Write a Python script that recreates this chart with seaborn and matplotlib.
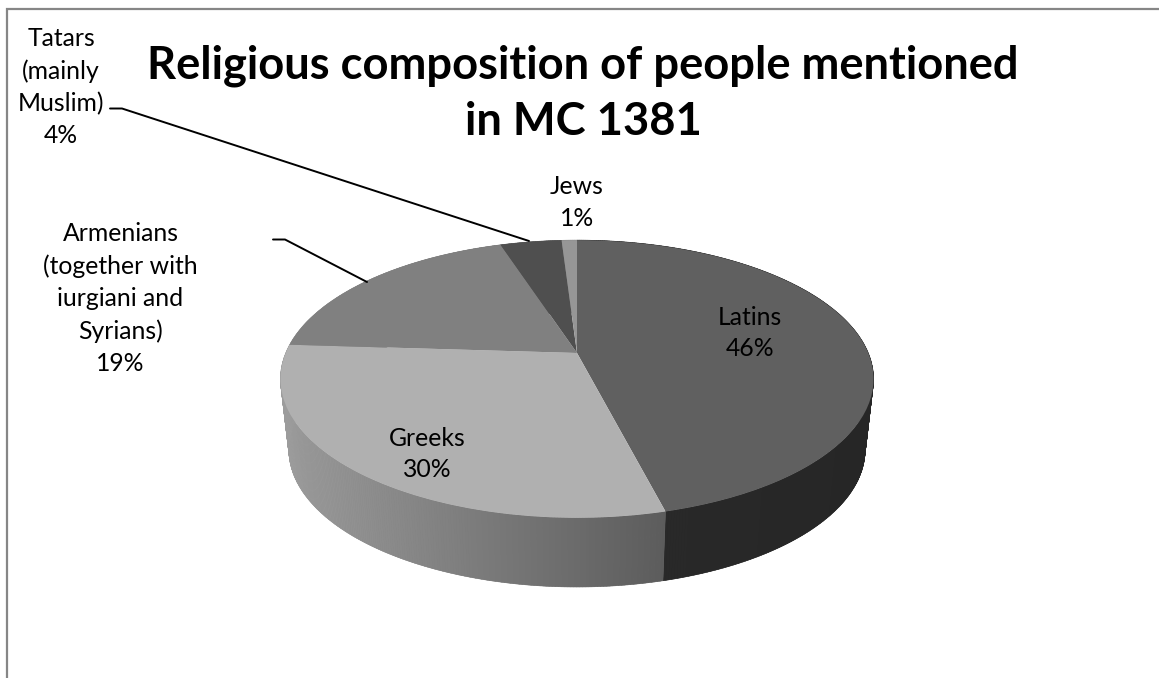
import numpy as np
import matplotlib
matplotlib.use("Agg")
import matplotlib.pyplot as plt
from matplotlib.path import Path
from matplotlib.transforms import Transform
import seaborn as sns

# ---- data ----
categories = ["Latins", "Greeks", "Armenians\n(together with\niurgiani and\nSyrians)",
              "Tatars\n(mainly\nMuslim)", "Jews"]
shares = [46, 30, 19, 4, 1]
title_text = "Religious composition of people mentioned\nin MC 1381"

# ---- style ----
top_colors = ["#606060", "#b0b0b0", "#808080", "#4f4f4f", "#969696"]
wall_left = ["#2a2a2a", "#9c9c9c", "#8a8a8a", "#555555", "#777777"]
wall_right = ["#262626", "#5c5c5c", "#777777", "#555555", "#777777"]
label_pos = [(750, 333), (427, 454), (120.5, 298.5), (61, 87), (577, 202.5)]

sns.set_theme(style="white")
plt.rcParams["font.family"] = ["Lato", "DejaVu Sans"]

K = 0.187


class Tilt(Transform):
    """Perspective view of the unit pie plane, in pixel-like data units."""
    input_dims = output_dims = 2

    def __init__(self, rx, ry, cx, cy):
        super().__init__()
        self.rx, self.ry, self.cx, self.cy = rx, ry, cx, cy

    def transform_non_affine(self, xy):
        xy = np.asarray(xy, float)
        w = 1 + K * xy[:, 1]
        return np.column_stack([self.cx + self.rx * xy[:, 0] / w,
                                self.cy - self.ry * xy[:, 1] / w])

    def transform_path_non_affine(self, path):
        return Path(self.transform_non_affine(path.vertices), path.codes)


top = Tilt(291.3, 134.0, 577, 353)
bottom = Tilt(283.0, 132.2, 577, 424.4)

fig = plt.figure(figsize=(11.59, 6.78), dpi=100)
ax = fig.add_axes([0, 0, 1, 1])

# side wall, from the same shares as the pie
edges = np.concatenate([[0], np.cumsum(shares)]) * 3.6
for i in [4, 3, 2, 0, 1]:
    a0, a1 = np.radians(edges[i]), np.radians(edges[i + 1])
    n = max(int((edges[i + 1] - edges[i]) * 2), 2)
    th = np.linspace(a0, a1, n + 1)
    unit = np.column_stack([np.sin(th), np.cos(th)])
    pt, pb = top.transform_non_affine(unit), bottom.transform_non_affine(unit)
    xs = pt[:, 0]
    lo, hi = xs.min(), xs.max()
    c0 = np.array(matplotlib.colors.to_rgb(wall_left[i]))
    c1 = np.array(matplotlib.colors.to_rgb(wall_right[i]))
    # solid base below the strips so that no seams show through
    base = np.vstack([pt, pb[::-1]])
    ax.fill(base[:, 0], base[:, 1], color=(c0 + c1) / 2, lw=0)
    for j in range(n):
        f = (0.5 * (xs[j] + xs[j + 1]) - lo) / max(hi - lo, 1)
        col = c0 + (c1 - c0) * f
        quad = np.vstack([pt[j], pt[j + 1], pb[j + 1], pb[j]])
        ax.fill(quad[:, 0], quad[:, 1], color=col, lw=0.4)

# top surface
wedges, _ = ax.pie(shares, startangle=90, counterclock=False, colors=top_colors,
                   wedgeprops=dict(linewidth=0))
for w in wedges:
    w.set_transform(top + ax.transData)
    w.set_zorder(3)

ax.set_aspect("auto")
ax.set_xlim(0, 1159)
ax.set_ylim(678, 0)
ax.axis("off")

# chart frame (only left and top remain in the picture)
ax.plot([7, 7, 1159], [678, 8.5, 8.5], color="#868686", lw=1.6, zorder=1,
        solid_joinstyle="miter")

# leader lines
ax.plot([110, 122, 529], [108.5, 108.5, 241], color="black", lw=1.4, zorder=4)
ax.plot([273, 285, 367], [239.5, 239.5, 282], color="black", lw=1.4, zorder=4)

# labels
for cat, share, (x, y) in zip(categories, shares, label_pos):
    ax.text(x, y, f"{cat}\n{share}%", ha="center", va="center", fontsize=17.8,
            color="black", linespacing=1.47, zorder=5)

ax.text(583, 93.5, title_text, ha="center", va="center", fontsize=32.6, fontweight="bold",
        color="black", linespacing=1.41, zorder=5)

fig.savefig("out.png", dpi=100, facecolor="white")
